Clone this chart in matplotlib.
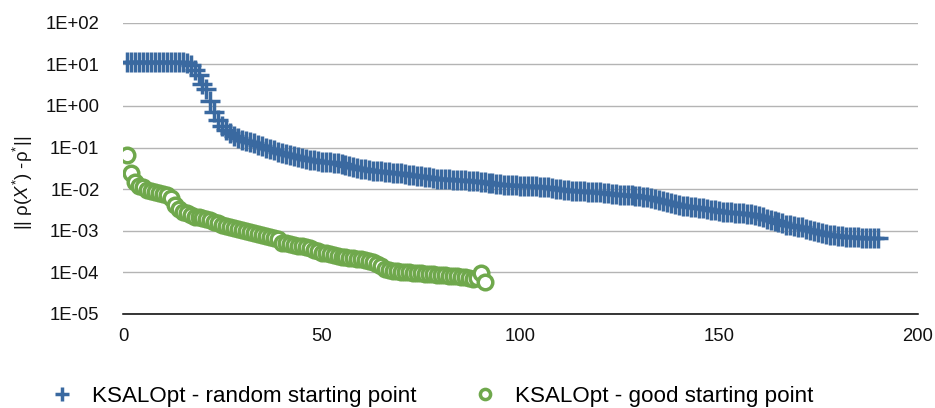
import matplotlib
matplotlib.use('agg')
import matplotlib.pyplot as plt
from matplotlib.ticker import FixedLocator, FuncFormatter

plt.rcParams['font.family'] = ['Liberation Sans', 'DejaVu Sans']
plt.rcParams['mathtext.fontset'] = 'custom'
plt.rcParams['mathtext.rm'] = 'Liberation Sans'
plt.rcParams['mathtext.it'] = 'Liberation Sans:italic'

# residual per iteration, random start
random_iter = list(range(1, 191))
random_res = [
    11.2, 11.2, 11.2, 11.2, 11.2, 11.2, 11.2, 11.2, 11.2, 11.2,
    11.2, 11.2, 11.2, 11.2, 11.2, 10.8, 9.5, 7.2, 5.5, 3.4,
    2.6, 1.3, 0.72, 0.45, 0.33, 0.27, 0.22, 0.19, 0.17, 0.155,
    0.145, 0.135, 0.125, 0.115, 0.108, 0.1, 0.092, 0.085, 0.08, 0.075,
    0.071, 0.067, 0.063, 0.059, 0.056, 0.053, 0.051, 0.049, 0.047, 0.046,
    0.045, 0.044, 0.043, 0.042, 0.041, 0.039, 0.037, 0.035, 0.033, 0.031,
    0.030, 0.029, 0.028, 0.0275, 0.027, 0.026, 0.0255, 0.025, 0.0245, 0.024,
    0.023, 0.022, 0.0215, 0.021, 0.0205, 0.020, 0.0192, 0.0185, 0.018, 0.0177,
    0.0174, 0.0171, 0.0168, 0.0166, 0.0164, 0.0162, 0.016, 0.0157, 0.0154, 0.015,
    0.0146, 0.0142, 0.0138, 0.0134, 0.013, 0.0127, 0.0125, 0.0124, 0.0123, 0.0122,
    0.0121, 0.012, 0.0118, 0.0116, 0.0114, 0.0112, 0.011, 0.0107, 0.0103, 0.0099,
    0.0095, 0.0093, 0.0091, 0.009, 0.0089, 0.0088, 0.0087, 0.0086, 0.0085, 0.0084,
    0.0082, 0.008, 0.0078, 0.0076, 0.0074, 0.0073, 0.0072, 0.0071, 0.0069, 0.0067,
    0.0065, 0.0063, 0.0061, 0.0058, 0.0055, 0.0052, 0.0049, 0.0046, 0.0043, 0.0041,
    0.0040, 0.0039, 0.0038, 0.0037, 0.0036, 0.0035, 0.0034, 0.0032, 0.0031, 0.0030,
    0.0029, 0.0028, 0.00275, 0.0027, 0.00265, 0.0026, 0.00255, 0.0025, 0.0024, 0.0023,
    0.0021, 0.0019, 0.0018, 0.0017, 0.0016, 0.0015, 0.0014, 0.00135, 0.0013, 0.00125,
    0.0012, 0.00112, 0.00105, 0.00098, 0.00092, 0.00087, 0.00083, 0.0008, 0.00077, 0.00075,
    0.00073, 0.00072, 0.00071, 0.0007, 0.00069, 0.00068, 0.00068, 0.00067, 0.00067, 0.00066,
]

# residual per iteration, good start
good_iter = list(range(1, 92))
good_res = [
    0.066, 0.024, 0.015, 0.012, 0.011, 0.0098, 0.009, 0.0085, 0.008, 0.0077,
    0.0072, 0.0062, 0.0042, 0.0033, 0.0029, 0.0026, 0.0024, 0.0022, 0.0021, 0.002,
    0.0019, 0.0018, 0.0016, 0.0015, 0.0014, 0.0013, 0.0012, 0.00115, 0.0011, 0.00105,
    0.001, 0.00095, 0.0009, 0.00085, 0.0008, 0.00075, 0.0007, 0.00066, 0.00062, 0.00052,
    0.0005, 0.00048, 0.00046, 0.00044, 0.00042, 0.0004, 0.00038, 0.00034, 0.00032, 0.0003,
    0.00029, 0.00027, 0.00026, 0.00025, 0.00024, 0.00023, 0.000225, 0.00022, 0.000215, 0.00021,
    0.0002, 0.00019, 0.00018, 0.00016, 0.00014, 0.00012, 0.000112, 0.000108, 0.000105, 0.000103,
    0.000101, 0.0001, 0.000099, 0.000097, 0.000095, 0.000093, 0.000092, 0.00009, 0.000088, 0.000087,
    0.000085, 0.000083, 0.000082, 0.00008, 0.000078, 0.000076, 0.000074, 0.000068, 0.000072, 0.000098,
    0.00006,
]

y_ticks = [1e-5, 1e-4, 1e-3, 1e-2, 1e-1, 1e0, 1e1, 1e2]
x_ticks = [0, 50, 100, 150, 200]

blue = '#3A69A0'
green = '#6FA84C'

fig = plt.figure(figsize=(9.35, 4.08), dpi=100)
ax = fig.add_axes([0.1316, 0.2304, 0.8497, 0.7140])

# plus markers stroked just thin enough that neighbouring iterations show as stripes
ax.plot(random_iter, random_res, linestyle='none', marker='+', markersize=14.5,
        markeredgewidth=2.5, color=blue, label='KSALOpt - random starting point')
ax.plot(good_iter, good_res, linestyle='none', marker='o', markersize=10.5,
        markeredgewidth=2.5, markeredgecolor=green, markerfacecolor='white',
        label='KSALOpt - good starting point')

ax.set_yscale('log')
ax.set_ylim(1e-5, 1e2)
ax.set_xlim(0, 200)
ax.yaxis.set_major_locator(FixedLocator(y_ticks))
ax.yaxis.set_minor_locator(FixedLocator([]))
ax.yaxis.set_major_formatter(FuncFormatter(lambda v, p: f'{v:.0E}'))
ax.set_xticks(x_ticks)

ax.grid(axis='y', color='#B4B4B4', linewidth=1.0)
ax.set_axisbelow(True)
for side in ['top', 'right', 'left']:
    ax.spines[side].set_visible(False)
ax.spines['bottom'].set_color('black')
ax.spines['bottom'].set_linewidth(1.1)
ax.tick_params(axis='both', length=0, labelsize=13.3, colors='#111111')
ax.tick_params(axis='y', pad=17)
ax.tick_params(axis='x', pad=10)

fig.text(0.0243, 0.551, r'|| ρ($\mathit{X}^{*}$) -ρ$^{*}$||', rotation=90,
         ha='center', va='center', fontsize=13.3, color='#111111')

fig.legend(loc='center left', bbox_to_anchor=(0.0428, 0.029), ncol=2,
           frameon=False, fontsize=16.1, borderpad=0, handlelength=1.0,
           handletextpad=0.83, columnspacing=2.55, markerscale=0.7)

fig.savefig('out.png', dpi=100)
